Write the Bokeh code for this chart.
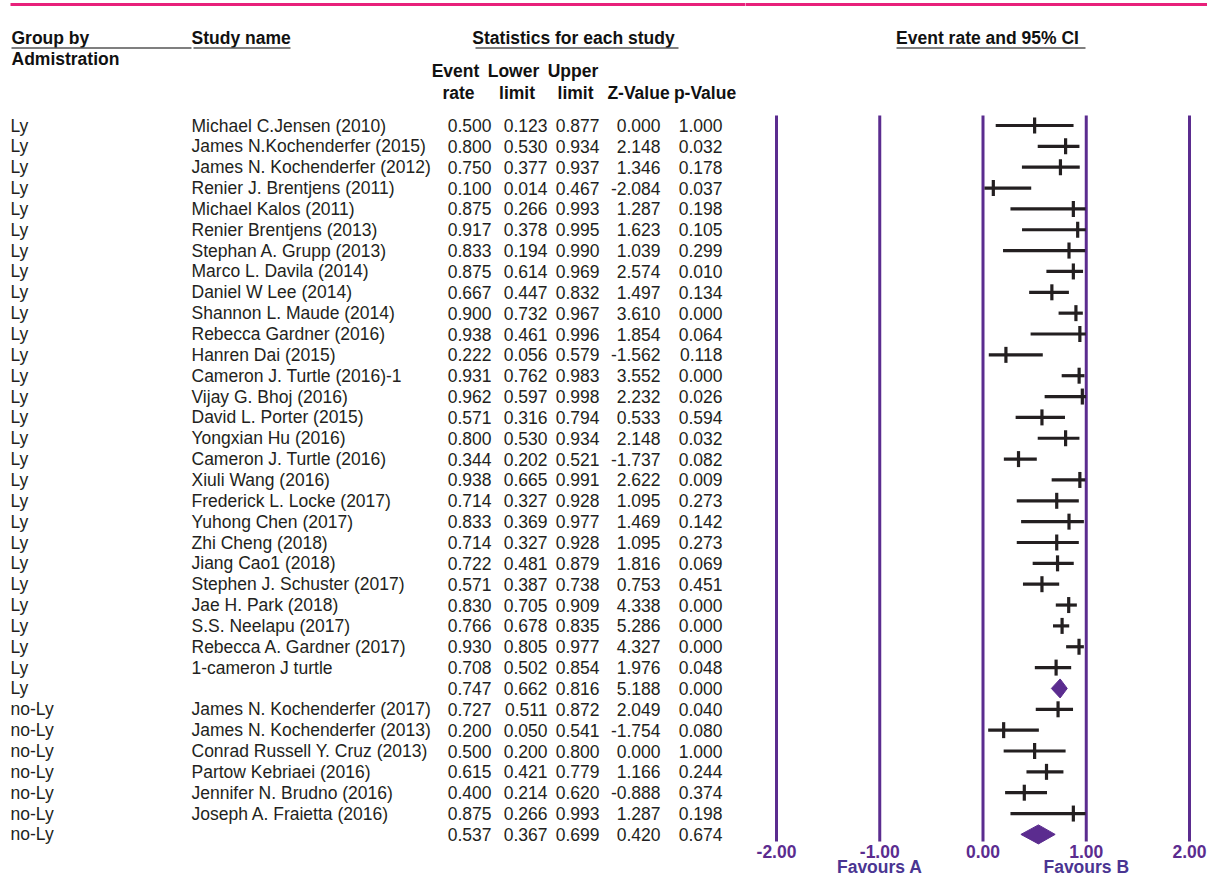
from bokeh.plotting import figure
from bokeh.layouts import row
from bokeh.models import Range1d, ColumnDataSource
from bokeh.embed import file_html
from bokeh.resources import INLINE
from bokeh.core.properties import value
import numpy as np

# ---------------- data ----------------
groups = ["Ly"] * 28 + ["no-Ly"] * 7
studies = [
    "Michael C.Jensen (2010)", "James N.Kochenderfer (2015)", "James N. Kochenderfer (2012)",
    "Renier J. Brentjens (2011)", "Michael Kalos (2011)", "Renier Brentjens (2013)",
    "Stephan A. Grupp (2013)", "Marco L. Davila (2014)", "Daniel W Lee (2014)",
    "Shannon L. Maude (2014)", "Rebecca Gardner (2016)", "Hanren Dai (2015)",
    "Cameron J. Turtle (2016)-1", "Vijay G. Bhoj (2016)", "David L. Porter (2015)",
    "Yongxian Hu (2016)", "Cameron J. Turtle (2016)", "Xiuli Wang (2016)",
    "Frederick L. Locke (2017)", "Yuhong Chen (2017)", "Zhi Cheng (2018)",
    "Jiang Cao1 (2018)", "Stephen J. Schuster (2017)", "Jae H. Park (2018)",
    "S.S. Neelapu (2017)", "Rebecca A. Gardner (2017)", "1-cameron J turtle",
    "",
    "James N. Kochenderfer (2017)", "James N. Kochenderfer (2013)",
    "Conrad Russell Y. Cruz (2013)", "Partow Kebriaei (2016)",
    "Jennifer N. Brudno (2016)", "Joseph A. Fraietta (2016)",
    "",
]
event_rate = [0.500, 0.800, 0.750, 0.100, 0.875, 0.917, 0.833, 0.875, 0.667, 0.900,
              0.938, 0.222, 0.931, 0.962, 0.571, 0.800, 0.344, 0.938, 0.714, 0.833,
              0.714, 0.722, 0.571, 0.830, 0.766, 0.930, 0.708, 0.747,
              0.727, 0.200, 0.500, 0.615, 0.400, 0.875, 0.537]
lower = [0.123, 0.530, 0.377, 0.014, 0.266, 0.378, 0.194, 0.614, 0.447, 0.732,
         0.461, 0.056, 0.762, 0.597, 0.316, 0.530, 0.202, 0.665, 0.327, 0.369,
         0.327, 0.481, 0.387, 0.705, 0.678, 0.805, 0.502, 0.662,
         0.511, 0.050, 0.200, 0.421, 0.214, 0.266, 0.367]
upper = [0.877, 0.934, 0.937, 0.467, 0.993, 0.995, 0.990, 0.969, 0.832, 0.967,
         0.996, 0.579, 0.983, 0.998, 0.794, 0.934, 0.521, 0.991, 0.928, 0.977,
         0.928, 0.879, 0.738, 0.909, 0.835, 0.977, 0.854, 0.816,
         0.872, 0.541, 0.800, 0.779, 0.620, 0.993, 0.699]
z_value = [0.000, 2.148, 1.346, -2.084, 1.287, 1.623, 1.039, 2.574, 1.497, 3.610,
           1.854, -1.562, 3.552, 2.232, 0.533, 2.148, -1.737, 2.622, 1.095, 1.469,
           1.095, 1.816, 0.753, 4.338, 5.286, 4.327, 1.976, 5.188,
           2.049, -1.754, 0.000, 1.166, -0.888, 1.287, 0.420]
p_value = [1.000, 0.032, 0.178, 0.037, 0.198, 0.105, 0.299, 0.010, 0.134, 0.000,
           0.064, 0.118, 0.000, 0.026, 0.594, 0.032, 0.082, 0.009, 0.273, 0.142,
           0.273, 0.069, 0.451, 0.000, 0.000, 0.000, 0.048, 0.000,
           0.040, 0.080, 1.000, 0.244, 0.374, 0.198, 0.674]
is_summary = [s == "" for s in studies]

axis_ticks = [-2, -1, 0, 1, 2]
tick_labels = ["-2.00", "-1.00", "0.00", "1.00", "2.00"]
favours_labels = ["Favours A", "Favours B"]
favours_pos = [-1, 1]

# ---------------- layout helpers ----------------
ROW0, RSTEP = 125.0, 20.85       # y (px) of first row, row pitch (px)
H, W_L, W_R = 879, 745, 462
def ry(py):                      # picture y (px) -> row units
    return (py - ROW0) / RSTEP

yr = Range1d(ry(H), ry(0))
FONT = value("Liberation Sans")
TXT = "#231f20"
PURPLE = "#5b2c8f"
PINK = "#e8207a"
LINEGRAY = "#555555"
FS = "17.5px"

def base_fig(width, xr):
    p = figure(width=width, height=H, x_range=xr, y_range=yr,
               output_backend="svg", toolbar_location=None,
               x_axis_location=None, y_axis_location=None,
               min_border=0, min_border_left=0, min_border_right=0,
               min_border_top=0, min_border_bottom=0)
    p.grid.visible = False
    p.outline_line_color = None
    p.background_fill_color = "white"
    p.border_fill_color = "white"
    return p

# ---------------- left: table ----------------
left = base_fig(W_L, Range1d(0, W_L))
rows = list(range(len(studies)))
fmt = lambda v: f"{v:.3f}"
src = ColumnDataSource(dict(
    y=rows, grp=groups, study=studies,
    er=[fmt(v) for v in event_rate], lo=[fmt(v) for v in lower],
    up=[fmt(v) for v in upper], z=[fmt(v) for v in z_value], p=[fmt(v) for v in p_value],
))
common = dict(source=src, text_font=FONT, text_font_size=FS, text_color=TXT,
              text_baseline="middle")
left.text(x=10, y="y", text="grp", text_align="left", **common)
left.text(x=191, y="y", text="study", text_align="left", **common)
for col, xr_ in [("er", 491), ("lo", 547), ("up", 599), ("z", 660), ("p", 722)]:
    left.text(x=xr_, y="y", text=col, text_align="right", **common)

# pink rule at top
left.segment(x0=10, y0=ry(4), x1=W_L + 2, y1=ry(4), line_color=PINK, line_width=3)

hdr = dict(text_font=FONT, text_font_size=FS, text_color="#111111",
           text_font_style="bold", text_baseline="middle")
left.text(x=[11, 191], y=[ry(37), ry(37)], text=["Group by", "Study name"],
          text_align="left", **hdr)
left.text(x=[11], y=[ry(58)], text=["Admistration"], text_align="left", **hdr)
left.text(x=[573], y=[ry(37)], text=["Statistics for each study"], text_align="center", **hdr)
left.text(x=[455, 513, 572.5], y=[ry(70)] * 3, text=["Event", "Lower", "Upper"],
          text_align="center", **hdr)
left.text(x=[458, 516.5, 575, 638, 704.5], y=[ry(92)] * 5,
          text=["rate", "limit", "limit", "Z-Value", "p-Value"], text_align="center", **hdr)
left.segment(x0=[11, 193, 475], y0=[ry(47.5)] * 3, x1=[191, 290, 678], y1=[ry(47.5)] * 3,
             line_color=LINEGRAY, line_width=1.5)

# ---------------- right: forest plot ----------------
X_AT_M2 = 776.0    # picture x of the -2.00 line
K = 103.25         # px per unit
def px2u(px):
    return -2 + (px - X_AT_M2) / K

xr_right = Range1d(px2u(W_L), px2u(W_L + W_R))
right = base_fig(W_R, xr_right)
right.segment(x0=px2u(W_L - 2), y0=ry(4), x1=xr_right.end, y1=ry(4),
              line_color=PINK, line_width=3)

right.segment(x0=axis_ticks, y0=ry(115), x1=axis_ticks, y1=ry(841),
              line_color=PURPLE, line_width=3)

study_idx = [i for i in rows if not is_summary[i]]
sum_idx = [i for i in rows if is_summary[i]]
fs = ColumnDataSource(dict(
    y=study_idx,
    est=[event_rate[i] for i in study_idx],
    lo=[lower[i] for i in study_idx],
    up=[upper[i] for i in study_idx],
))
right.segment(x0="lo", y0="y", x1="up", y1="y", source=fs,
              line_color="#231f20", line_width=3.2)
right.scatter(x="est", y="y", source=fs, marker="dash", size=16, angle=np.pi / 2,
              line_color="#231f20", line_width=3.2)

half = 9.5 / RSTEP
dxs = [[lower[i], event_rate[i], upper[i], event_rate[i]] for i in sum_idx]
dys = [[i, i - half, i, i + half] for i in sum_idx]
right.patches(xs=dxs, ys=dys, fill_color=PURPLE, line_color=PURPLE, line_width=1)

right.text(x=axis_ticks, y=[ry(851)] * 5, text=tick_labels, text_align="center",
           text_baseline="middle", text_font=FONT, text_font_size=FS,
           text_font_style="bold", text_color=PURPLE)
right.text(x=favours_pos, y=[ry(866)] * 2, text=favours_labels, text_align="center",
           text_baseline="middle", text_font=FONT, text_font_size=FS,
           text_font_style="bold", text_color="#4a3592")
right.text(x=[px2u(987)], y=[ry(37)], text=["Event rate and 95% CI"], text_align="center",
           text_baseline="middle", text_font=FONT, text_font_size=FS,
           text_font_style="bold", text_color="#111111")
right.segment(x0=[px2u(896)], y0=[ry(47.5)], x1=[px2u(1085)], y1=[ry(47.5)],
              line_color=LINEGRAY, line_width=1.5)

layout = row(left, right, spacing=0)
open("out.html", "w").write(file_html(layout, INLINE))
